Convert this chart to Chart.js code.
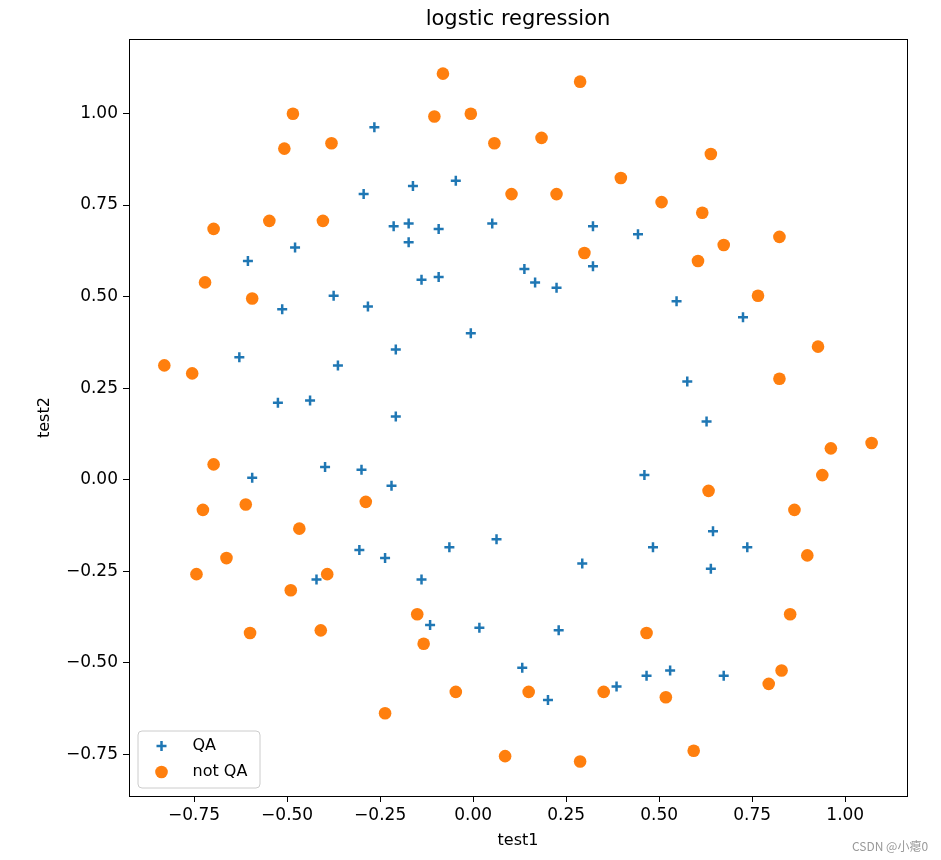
<!DOCTYPE html>
<html>
<head>
<meta charset="utf-8">
<script src="https://cdn.jsdelivr.net/npm/chart.js@4/dist/chart.umd.min.js"></script>
<style>
  html, body { margin:0; padding:0; background:#fff; }
  #wrap { position:relative; width:941px; height:860px; }
  #mark { position:absolute; left:852px; top:837px; font:12px "Noto Sans CJK SC", "DejaVu Sans", sans-serif; color:#999; white-space:nowrap; }
</style>
</head>
<body>
<div id="wrap">
  <canvas id="chart"></canvas>
  <div id="mark">CSDN @小瘪0</div>
</div>
<script>
// scatter data: test1 / test2 per class
const qaX = [0.051267,-0.092742,-0.21371,-0.375,-0.51325,-0.52477,-0.39804,-0.30588,0.016705,0.13191,
  0.38537,0.52938,0.63882,0.73675,0.54666,0.322,0.16647,-0.046659,-0.17339,-0.47869,
  -0.60541,-0.62846,-0.59389,-0.42108,-0.11578,0.20104,0.46601,0.67339,-0.13882,-0.29435,
  -0.26555,-0.16187,-0.17339,-0.28283,-0.36348,-0.30012,-0.23675,-0.06394,0.062788,0.22984,
  0.2932,0.48329,0.64459,0.46025,0.6273,0.57546,0.72523,0.22408,0.44297,0.322,
  0.13767,-0.0063364,-0.092742,-0.20795,-0.20795,-0.43836,-0.21947,-0.13882];
const qaY = [0.69956,0.68494,0.69225,0.50219,0.46564,0.2098,0.034357,-0.19225,-0.40424,-0.51389,
  -0.56506,-0.5212,-0.24342,-0.18494,0.48757,0.5826,0.53874,0.81652,0.69956,0.63377,
  0.59722,0.33406,0.005117,-0.27266,-0.39693,-0.60161,-0.53582,-0.53582,0.54605,0.77997,
  0.96272,0.8019,0.64839,0.47295,0.31213,0.027047,-0.21418,-0.18494,-0.16301,-0.41155,
  -0.2288,-0.18494,-0.14108,0.012427,0.15863,0.26827,0.44371,0.52412,0.67032,0.69225,
  0.57529,0.39985,0.55336,0.35526,0.17251,0.21637,-0.016813,-0.27266];
const notQaX = [0.18376,0.22408,0.29896,0.50634,0.61578,0.60426,0.76555,0.92684,0.82316,0.96141,
  0.93836,0.86348,0.89804,0.85196,0.82892,0.79435,0.59274,0.51786,0.46601,0.35081,
  0.28744,0.085829,0.14919,-0.13306,-0.40956,-0.39228,-0.74366,-0.69758,-0.75518,-0.69758,
  -0.4038,-0.38076,-0.50749,-0.54781,0.10311,0.057028,-0.10426,-0.081221,0.28744,0.39689,
  0.63882,0.82316,0.67339,1.0709,-0.046659,-0.23675,-0.15035,-0.49021,-0.46717,-0.28859,
  -0.61118,-0.66302,-0.59965,-0.72638,-0.83007,-0.72062,-0.59389,-0.48445,-0.0063364,0.63265];
const notQaY = [0.93348,0.77997,0.61915,0.75804,0.7288,0.59722,0.50219,0.3633,0.27558,0.085526,
  0.012427,-0.082602,-0.20687,-0.36769,-0.5212,-0.55775,-0.7405,-0.5943,-0.41886,-0.57968,
  -0.76974,-0.75512,-0.57968,-0.4481,-0.41155,-0.25804,-0.25804,0.041667,0.2902,0.68494,
  0.70687,0.91886,0.90424,0.70687,0.77997,0.91886,0.99196,1.1089,1.087,0.82383,
  0.88962,0.66301,0.64108,0.10015,-0.57968,-0.63816,-0.36769,-0.3019,-0.13377,-0.060673,
  -0.067982,-0.21418,-0.41886,-0.082602,0.31213,0.53874,0.49488,0.99927,0.99927,-0.030612];

const xTicks = [-0.75, -0.5, -0.25, 0, 0.25, 0.5, 0.75, 1.0];
const yTicks = [-0.75, -0.5, -0.25, 0, 0.25, 0.5, 0.75, 1.0];
const seriesNames = ['QA', 'not QA'];

const FONT = 'DejaVu Sans';
const BLUE = '#1f77b4', ORANGE = '#ff7f0e';

const toPts = (xs, ys) => xs.map((x, i) => ({ x, y: ys[i] }));
const fmt = v => v.toFixed(2).replace('-', '\u2212');

// matplotlib-ish frame + legend in lower-left corner
const framePlugin = {
  id: 'frame',
  afterDraw(chart){
    const { ctx, chartArea: a } = chart;
    ctx.save();
    ctx.strokeStyle = '#000';
    ctx.lineWidth = 1;
    ctx.strokeRect(Math.round(a.left) + 0.5, Math.round(a.top) + 0.5, Math.round(a.right - a.left), Math.round(a.bottom - a.top));

    const bx = a.left + 9, bw = 122, bh = 57, by = a.bottom - 8 - bh, r = 4;
    ctx.beginPath();
    ctx.moveTo(bx + r, by);
    ctx.arcTo(bx + bw, by, bx + bw, by + bh, r);
    ctx.arcTo(bx + bw, by + bh, bx, by + bh, r);
    ctx.arcTo(bx, by + bh, bx, by, r);
    ctx.arcTo(bx, by, bx + bw, by, r);
    ctx.closePath();
    ctx.fillStyle = 'rgba(255,255,255,0.8)';
    ctx.fill();
    ctx.strokeStyle = '#cccccc';
    ctx.stroke();

    const mx = bx + 23.5;
    // QA marker
    ctx.strokeStyle = BLUE; ctx.lineWidth = 2.5;
    ctx.beginPath();
    ctx.moveTo(mx - 5, by + 15); ctx.lineTo(mx + 5, by + 15);
    ctx.moveTo(mx, by + 10); ctx.lineTo(mx, by + 20);
    ctx.stroke();
    // not QA marker
    ctx.fillStyle = ORANGE;
    ctx.beginPath(); ctx.arc(mx, by + 41, 6.3, 0, Math.PI * 2); ctx.fill();

    ctx.fillStyle = '#000';
    ctx.font = `16px "${FONT}"`;
    ctx.textBaseline = 'middle';
    ctx.fillText(seriesNames[0], bx + 54.5, by + 15);
    ctx.fillText(seriesNames[1], bx + 54.5, by + 41);
    ctx.restore();
  }
};

new Chart(document.getElementById('chart'), {
  type: 'scatter',
  data: { datasets: [
    { label: seriesNames[0], data: toPts(qaX, qaY), order: 2, pointStyle: 'cross', pointRadius: 5, pointBorderWidth: 2.5, borderColor: BLUE, backgroundColor: BLUE },
    { label: seriesNames[1], data: toPts(notQaX, notQaY), order: 1, pointStyle: 'circle', pointRadius: 6.3, pointBorderWidth: 0, borderColor: ORANGE, backgroundColor: ORANGE },
  ] },
  options: {
    responsive: true, maintainAspectRatio: false, animation: false, devicePixelRatio: 1,
    layout: { padding: { left: 0, right: 34, top: 0, bottom: 0 } },
    plugins: {
      legend: { display: false },
      tooltip: { enabled: false },
      title: { display: true, fullSize: false, text: 'logstic regression', color: '#000', font: { family: FONT, size: 21, weight: 'normal' }, padding: { top: 7, bottom: 7 } },
    },
    scales: {
      x: {
        type: 'linear', min: -0.925, max: 1.166,
        afterBuildTicks: s => { s.ticks = xTicks.map(v => ({ value: v })); },
        afterFit: s => { s.height = 64; },
        ticks: { callback: v => fmt(v), color: '#000', font: { family: FONT, size: 17 }, padding: 3, maxRotation: 0 },
        grid: { drawOnChartArea: false, drawTicks: true, tickLength: 6, color: '#000' },
        border: { display: false },
        title: { display: true, text: 'test1', color: '#000', font: { family: FONT, size: 16 }, padding: { top: 0, bottom: 10 } },
      },
      y: {
        type: 'linear', min: -0.864, max: 1.203,
        afterBuildTicks: s => { s.ticks = yTicks.map(v => ({ value: v })); },
        afterFit: s => { s.width = 129; },
        ticks: { callback: v => fmt(v), color: '#000', font: { family: FONT, size: 17 }, padding: 5 },
        grid: { drawOnChartArea: false, drawTicks: true, tickLength: 6, color: '#000' },
        border: { display: false },
        title: { display: true, text: 'test2', color: '#000', font: { family: FONT, size: 16 }, padding: { top: 35, bottom: 0 } },
      },
    },
  },
  plugins: [framePlugin],
});
</script>
</body>
</html>
